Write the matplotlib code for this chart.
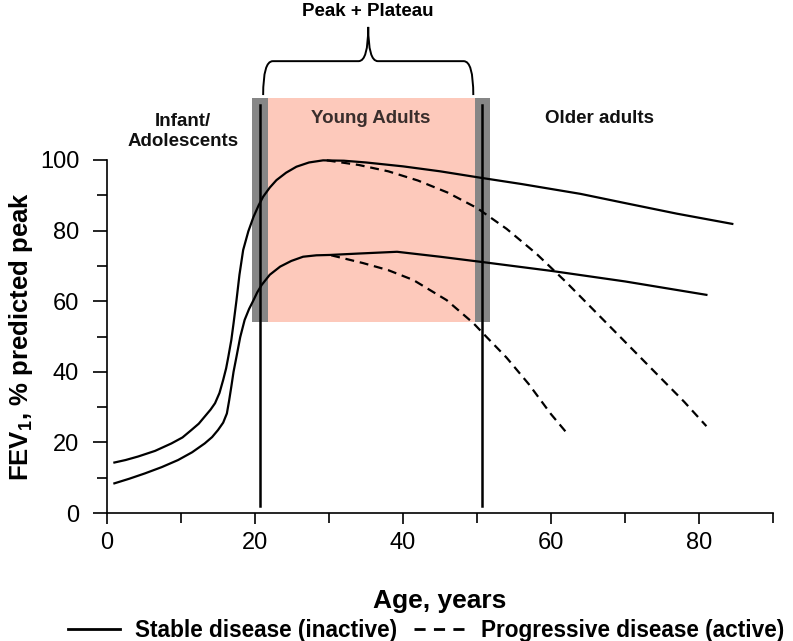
import matplotlib
matplotlib.use("Agg")
import matplotlib.pyplot as plt
from matplotlib.lines import Line2D
from matplotlib.patches import Rectangle, PathPatch
from matplotlib.path import Path

plt.rcParams['font.family'] = ['Liberation Sans', 'DejaVu Sans']
plt.rcParams['mathtext.fontset'] = 'custom'
plt.rcParams['mathtext.rm'] = 'Liberation Sans'
plt.rcParams['mathtext.bf'] = 'Liberation Sans:bold'

# ---- data ----
upper_stable_x = [1.0, 2.5, 4.2, 6.5, 8.7, 10.2, 11.4, 12.4, 13.2, 14.0, 14.6, 15.2, 15.7, 16.1, 16.4, 16.8, 17.1, 17.5, 17.9,
                  18.4, 19.1, 19.8, 20.5, 21.1, 22.0, 22.9, 24.2, 25.6, 27.3, 29.2, 32, 35, 40, 45, 50.7, 56, 60, 64, 70, 77, 84.5]
upper_stable_y = [14.3, 15.0, 16.0, 17.6, 19.7, 21.4, 23.5, 25.3, 27.3, 29.3, 31.1, 34.0, 37.7, 41.0, 44.3, 49.0, 53.7, 60.3, 67.5,
                  74.5, 79.8, 83.9, 87.2, 89.6, 92.2, 94.3, 96.4, 98.1, 99.3, 99.9, 99.8, 99.3, 98.2, 96.8, 94.9, 93.2, 91.8, 90.4, 87.8, 84.8, 81.9]

upper_prog_x = [29.7, 34, 38, 42, 46, 50, 54, 58, 62, 66, 70, 74, 78, 81]
upper_prog_y = [99.9, 98.6, 96.8, 94.2, 90.8, 86.4, 80.5, 73.5, 65.5, 57.0, 48.5, 40.0, 31.5, 24.6]

lower_stable_x = [1.0, 3.0, 5.1, 7.4, 9.6, 11.5, 13.2, 14.2, 15.0, 15.7, 16.2, 16.5, 16.8, 17.1, 17.5, 18.0, 18.6, 19.2, 19.8,
                  20.3, 20.9, 22.0, 23.4, 24.9, 26.5, 28.3, 30.1, 34, 39.2, 45, 50.7, 60, 70, 81]
lower_stable_y = [8.4, 9.7, 11.2, 13.0, 15.0, 17.2, 19.7, 21.5, 23.5, 25.6, 28.2, 31.8, 35.8, 40.0, 44.3, 49.8, 54.7, 57.8, 60.3,
                  62.5, 64.6, 67.5, 69.8, 71.4, 72.6, 73.0, 73.1, 73.5, 74.0, 72.6, 71.1, 68.6, 65.6, 61.8]

lower_prog_x = [30.3, 34.6, 38, 41.4, 45.9, 49.5, 51, 54, 57, 60, 62]
lower_prog_y = [73.0, 70.8, 68.8, 66.0, 60.3, 53.8, 50.5, 44.0, 36.5, 28.0, 23.0]

x_ticks = [0, 20, 40, 60, 80]
y_ticks = [0, 20, 40, 60, 80, 100]

# region boundaries (ages) and shaded band extent (FEV1 units)
band_left = (19.6, 21.8)
band_right = (49.7, 51.8)
line_ages = [20.7, 50.7]
band_y = (54.1, 117.6)
line_y = (2.0, 115.6)

region_labels = ["Infant/\nAdolescents", "Young Adults", "Older adults"]
legend_labels = ["Stable disease (inactive)", "Progressive disease (active)"]

# ---- figure ----
fig = plt.figure(figsize=(7.93, 6.41), dpi=100)
ax = fig.add_axes([107 / 793, 1 - 513 / 641, 666 / 793, 353 / 641])
ax.set_xlim(0, 90)
ax.set_ylim(0, 100)

pink = '#FDC9BB'
gray = '#868686'

ax.add_patch(Rectangle((band_left[1], band_y[0]), band_right[0] - band_left[1], band_y[1] - band_y[0],
                       facecolor=pink, edgecolor='none', clip_on=False, zorder=1))
for b in (band_left, band_right):
    ax.add_patch(Rectangle((b[0], band_y[0]), b[1] - b[0], band_y[1] - band_y[0],
                           facecolor=gray, edgecolor='none', clip_on=False, zorder=1))

lw = 1.6
dash = (4, 2.6)
ax.plot(upper_stable_x, upper_stable_y, color='black', lw=lw, zorder=3, clip_on=False, solid_joinstyle='round')
ax.plot(lower_stable_x, lower_stable_y, color='black', lw=lw, zorder=3, clip_on=False, solid_joinstyle='round')
ax.plot(upper_prog_x, upper_prog_y, color='black', lw=lw, zorder=3, clip_on=False, dashes=dash)
ax.plot(lower_prog_x, lower_prog_y, color='black', lw=lw, zorder=3, clip_on=False, dashes=dash)

for a in line_ages:
    ax.plot([a, a], list(line_y), color='black', lw=1.8, zorder=4, clip_on=False)

# region labels
ax.text(10.3, 108.0, region_labels[0], ha='center', va='center', fontsize=13.5, fontweight='bold',
        color='#111111', linespacing=1.2)
ax.text(35.6, 111.8, region_labels[1], ha='center', va='center', fontsize=13.5, fontweight='bold',
        color='#3a2e2c')
ax.text(66.6, 111.8, region_labels[2], ha='center', va='center', fontsize=13.5, fontweight='bold',
        color='#111111')

# brace
xL, xR = 21.1, 49.5
xm = (xL + xR) / 2
y0, y1, y2 = 118.4, 128.0, 137.7
r = 1.3
verts = [(xL, y0), (xL, y1), (xL + r, y1),
         (xm - r, y1), (xm, y1), (xm, y2),
         (xm, y1), (xm + r, y1),
         (xR - r, y1), (xR, y1), (xR, y0)]
codes = [Path.MOVETO, Path.CURVE3, Path.CURVE3,
         Path.LINETO, Path.CURVE3, Path.CURVE3,
         Path.CURVE3, Path.CURVE3,
         Path.LINETO, Path.CURVE3, Path.CURVE3]
ax.add_patch(PathPatch(Path(verts, codes), facecolor='none', edgecolor='black', lw=1.4, clip_on=False, zorder=5))
ax.text(xm, 142.0, "Peak + Plateau", ha='center', va='center', fontsize=13.5, fontweight='bold')

# axes styling
for s in ('top', 'right'):
    ax.spines[s].set_visible(False)
for s in ('left', 'bottom'):
    ax.spines[s].set_linewidth(1.2)
ax.set_xticks(x_ticks)
ax.set_xticks([10, 30, 50, 70, 90], minor=True)
ax.set_yticks(y_ticks)
ax.set_yticks([10, 30, 50, 70, 90], minor=True)
ax.tick_params(which='both', direction='out', width=1.2, labelsize=17, colors='black')
ax.tick_params(axis='x', which='major', length=8, pad=6)
ax.tick_params(axis='x', which='minor', length=7)
ax.tick_params(axis='y', which='major', length=10, pad=10)
ax.tick_params(axis='y', which='minor', length=7)

ax.set_xlabel("Age, years", fontsize=19, fontweight='bold')
ax.xaxis.set_label_coords(0.5, -0.215)
ax.set_ylabel(r"FEV$_\mathbf{1}$, % predicted peak", fontsize=18.5, fontweight='bold')
ax.yaxis.set_label_coords(-0.108, 0.5)

handles = [Line2D([], [], color='black', lw=2),
           Line2D([], [], color='black', lw=2, dashes=(4, 3))]
fig.legend(handles, legend_labels, loc='center', bbox_to_anchor=(0.537, 0.016), ncol=2, frameon=False,
           prop={'weight': 'bold', 'size': 16.3},
           handlelength=2.3, handletextpad=0.65, columnspacing=0.75, borderpad=0, borderaxespad=0)

fig.savefig("out.png", dpi=100)
